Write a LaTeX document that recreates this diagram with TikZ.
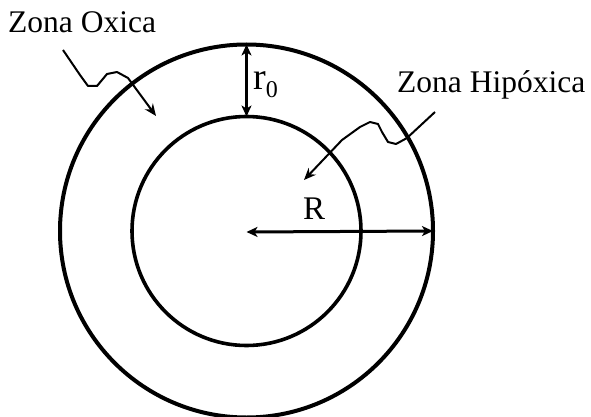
\documentclass[tikz,border=0pt]{standalone}
\usepackage{fontspec}
\setmainfont{Liberation Serif}
\usetikzlibrary{arrows.meta}
\tikzset{
  ring/.style={circle, draw, inner sep=0pt, outer sep=0pt},
  dim/.style={line width=3pt, {Stealth[length=11pt,width=10pt,inset=3pt]}-{Stealth[length=11pt,width=10pt,inset=3pt]}},
  leader/.style={line width=2pt, line join=round, -{Stealth[length=12pt,width=10pt,inset=4pt]}},
  lbl/.style={inner sep=0pt, anchor=base west, font=\fontsize{31.5}{36}\selectfont}
}
\begin{document}
\begin{tikzpicture}[x=1pt,y=-1pt]
\useasboundingbox (0,0) rectangle (591,417);
\node[ring, line width=4pt, minimum size=373pt] (outer) at (246.5,231) {};
\node[ring, line width=3.6pt, minimum size=229pt] (inner) at (246.5,231) {};
\coordinate (c) at (246.5,232);
\node[lbl] (zo) at (8,33) {Zona Oxica};
\node[lbl] (zh) at (397,93) {Zona Hip\'oxica};
\node[lbl, font=\fontsize{33}{38}\selectfont] (R) at (303,219) {R};
\node[lbl, font=\fontsize{38}{44}\selectfont] (r0) at (253,90) {r\raisebox{-8pt}{\fontsize{24}{28}\selectfont 0}};
\draw[dim] (c) -- (outer.east);
\draw[dim] (outer.north) -- (inner.north);
\coordinate (zostart) at (63,50);
\coordinate (zoend) at (156,116);
\coordinate (zhstart) at (435,112);
\coordinate (zhend) at (304,180);
\draw[leader] (zostart) -- (80,75) -- (88,86) -- (97,86) -- (107,74) -- (117,72) -- (128,78) -- (zoend);
\draw[leader] (zhstart) -- (407,138) -- (396,144) -- (388,142) -- (382,132) -- (378,124) -- (370,122) -- (360,127) -- (342,140) -- (zhend);
\end{tikzpicture}
\end{document}
